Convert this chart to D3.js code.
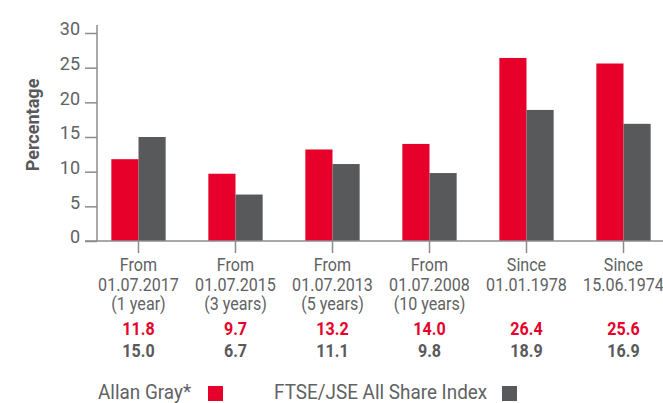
<!DOCTYPE html>
<html><head><meta charset="utf-8">
<script src="https://cdn.jsdelivr.net/npm/d3@7"></script>
<style>body{margin:0;background:#fff}svg{display:block}text{font-family:Roboto,"Noto Sans",sans-serif}</style>
</head><body>
<svg id="c" width="663" height="403"></svg>
<script>
const categories = [
  ["From","01.07.2017","(1 year)"],
  ["From","01.07.2015","(3 years)"],
  ["From","01.07.2013","(5 years)"],
  ["From","01.07.2008","(10 years)"],
  ["Since","01.01.1978"],
  ["Since","15.06.1974"]
];
const allanGray = [11.8, 9.7, 13.2, 14.0, 26.4, 25.6];
const ftseJse = [15.0, 6.7, 11.1, 9.8, 18.9, 16.9];
const yTicks = [0, 5, 10, 15, 20, 25, 30];
const seriesNames = ["Allan Gray*", "FTSE/JSE All Share Index"];

const RED = "#e6002a", GREY = "#58595b", AXIS = "#8c8c8e", TXT = "#616264";
const svg = d3.select("#c");
const ids = d3.range(categories.length);
const x = d3.scaleBand().domain(ids).range([90, 672]).paddingInner(0.44).paddingOuter(0.22);
const y = d3.scaleLinear().domain([0, 30]).range([241, 33]);
const xs = d3.scaleBand().domain([0, 1]).range([0, x.bandwidth()]);

function ctext(px, py, s, str, size, weight, fill, anchor) {
  return svg.append("g").attr("transform", `translate(${px},${py}) scale(${s},1)`)
    .append("text").attr("text-anchor", anchor || "middle").attr("fill", fill)
    .style("font-size", size + "px").style("font-weight", weight).text(str);
}

// bars
const series = [allanGray, ftseJse];
const colors = [RED, GREY];
series.forEach((s, si) => {
  svg.append("g").selectAll("rect").data(s).join("rect")
    .attr("x", (d, i) => x(i) + xs(si))
    .attr("width", xs.bandwidth())
    .attr("y", d => y(d))
    .attr("height", d => y(0) - y(d))
    .attr("fill", colors[si]);
});

// y axis
const ya = svg.append("g").attr("transform", "translate(97,0)")
  .call(d3.axisLeft(y).tickValues(yTicks).tickSize(12).tickPadding(5).tickSizeOuter(0));
ya.select(".domain").remove();
ya.selectAll("line").attr("stroke", AXIS).attr("stroke-width", 1.5);
ya.selectAll("text").attr("fill", TXT).style("font-size", "18px").style("font-weight", 400).attr("dy", "0.1em");
svg.append("line").attr("x1", 97).attr("x2", 97).attr("y1", 25).attr("y2", y(0))
  .attr("stroke", AXIS).attr("stroke-width", 1.5);

// x axis
const xa = svg.append("g").attr("transform", `translate(0,${y(0)})`)
  .call(d3.axisBottom(x).tickSize(12).tickSizeOuter(0).tickFormat(""));
xa.select(".domain").remove();
xa.selectAll("line").attr("stroke", AXIS).attr("stroke-width", 1.5);
svg.append("line").attr("x1", 85).attr("x2", 663).attr("y1", y(0)).attr("y2", y(0))
  .attr("stroke", AXIS).attr("stroke-width", 1.5);

// category labels and values
categories.forEach((c, i) => {
  const cx = x(i) + x.bandwidth() / 2;
  c.forEach((t, li) => ctext(cx, 271 + li * 19.5, 0.92, t, 17.5, 400, TXT));
  ctext(cx, 335, 0.92, allanGray[i].toFixed(1), 17.5, 700, RED);
  ctext(cx, 357, 0.92, ftseJse[i].toFixed(1), 17.5, 700, GREY);
});

// y label
svg.append("text").attr("transform", "translate(39,125) rotate(-90) scale(0.95,1)")
  .attr("text-anchor", "middle").attr("fill", GREY)
  .style("font-size", "19px").style("font-weight", 700).text("Percentage");

// legend
const leg = [{x: 98, sq: 208}, {x: 274, sq: 502}];
seriesNames.forEach((n, i) => {
  ctext(leg[i].x, 399, 0.9, n, 21, 400, TXT, "start");
  svg.append("rect").attr("x", leg[i].sq).attr("y", 386).attr("width", 15).attr("height", 15).attr("fill", colors[i]);
});
</script>
</body></html>
